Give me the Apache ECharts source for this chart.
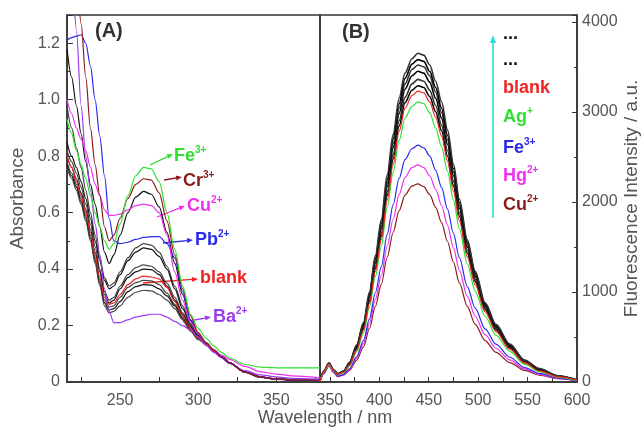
<!DOCTYPE html>
<html>
<head>
<meta charset="utf-8">
<script src="https://cdn.jsdelivr.net/npm/echarts@6/dist/echarts.min.js"></script>
<style>html,body{margin:0;padding:0;background:#fff}#main{width:644px;height:427px}</style>
</head>
<body>
<div id="main"></div>
<script>
// (A) absorption spectra
var wlA = [216, 219, 222, 225, 228, 231, 234, 237, 240, 243, 246, 250, 255, 260, 265, 270, 275, 280, 285, 290, 295, 300, 305, 310, 315, 320, 330, 340, 350, 360, 378];
var absK1 = [1.18, 1.08, 0.98, 0.88, 0.78, 0.7, 0.63, 0.55, 0.46, 0.42, 0.45, 0.52, 0.6, 0.655, 0.675, 0.665, 0.62, 0.53, 0.42, 0.31, 0.22, 0.17, 0.138, 0.112, 0.09, 0.069, 0.036, 0.018, 0.011, 0.008, 0.006];
var absK2 = [0.98, 0.9, 0.83, 0.76, 0.68, 0.6, 0.52, 0.44, 0.37, 0.34, 0.35, 0.39, 0.44, 0.475, 0.49, 0.485, 0.46, 0.41, 0.34, 0.27, 0.21, 0.165, 0.135, 0.11, 0.088, 0.068, 0.035, 0.017, 0.01, 0.008, 0.006];
var absK3 = [0.85, 0.8, 0.76, 0.71, 0.65, 0.58, 0.5, 0.43, 0.36, 0.33, 0.34, 0.38, 0.43, 0.46, 0.475, 0.47, 0.445, 0.4, 0.33, 0.26, 0.205, 0.165, 0.135, 0.11, 0.088, 0.068, 0.035, 0.017, 0.01, 0.008, 0.006];
var absK4 = [0.82, 0.78, 0.74, 0.69, 0.63, 0.56, 0.48, 0.4, 0.32, 0.29, 0.3, 0.34, 0.38, 0.405, 0.415, 0.41, 0.39, 0.35, 0.3, 0.245, 0.2, 0.16, 0.135, 0.11, 0.088, 0.068, 0.035, 0.017, 0.01, 0.008, 0.006];
var absK5 = [0.8, 0.76, 0.72, 0.67, 0.61, 0.54, 0.46, 0.39, 0.31, 0.28, 0.29, 0.33, 0.37, 0.39, 0.4, 0.398, 0.38, 0.34, 0.29, 0.24, 0.195, 0.16, 0.135, 0.11, 0.088, 0.068, 0.035, 0.017, 0.01, 0.008, 0.006];
var absK6 = [0.78, 0.74, 0.7, 0.65, 0.59, 0.52, 0.44, 0.36, 0.29, 0.265, 0.27, 0.3, 0.335, 0.352, 0.36, 0.358, 0.345, 0.315, 0.275, 0.23, 0.19, 0.155, 0.135, 0.11, 0.088, 0.068, 0.035, 0.017, 0.01, 0.008, 0.006];
var absK7 = [0.77, 0.73, 0.69, 0.64, 0.58, 0.51, 0.43, 0.35, 0.28, 0.255, 0.26, 0.285, 0.32, 0.338, 0.345, 0.343, 0.33, 0.305, 0.27, 0.225, 0.185, 0.155, 0.135, 0.11, 0.088, 0.068, 0.035, 0.017, 0.01, 0.008, 0.006];
var absK8 = [0.76, 0.72, 0.68, 0.63, 0.57, 0.5, 0.42, 0.34, 0.27, 0.245, 0.25, 0.27, 0.3, 0.318, 0.325, 0.323, 0.31, 0.29, 0.26, 0.22, 0.18, 0.15, 0.133, 0.108, 0.087, 0.067, 0.034, 0.016, 0.01, 0.008, 0.006];
var absBlank = [0.8, 0.76, 0.71, 0.66, 0.6, 0.53, 0.45, 0.37, 0.3, 0.275, 0.28, 0.31, 0.345, 0.365, 0.375, 0.372, 0.365, 0.335, 0.285, 0.235, 0.19, 0.155, 0.133, 0.11, 0.088, 0.068, 0.035, 0.017, 0.01, 0.008, 0.006];
var absBa = [1.6, 1.45, 1.25, 0.98, 0.8, 0.68, 0.56, 0.45, 0.33, 0.25, 0.21, 0.21, 0.22, 0.23, 0.235, 0.24, 0.24, 0.23, 0.215, 0.2, 0.185, 0.16, 0.13, 0.105, 0.085, 0.065, 0.04, 0.025, 0.018, 0.013, 0.01];
var absPb = [1.21, 1.22, 1.225, 1.23, 1.2, 1.12, 1.0, 0.87, 0.73, 0.58, 0.5, 0.49, 0.495, 0.505, 0.512, 0.515, 0.515, 0.49, 0.44, 0.32, 0.22, 0.17, 0.14, 0.115, 0.09, 0.068, 0.035, 0.017, 0.01, 0.007, 0.005];
var absCu = [1.0, 0.95, 0.9, 0.86, 0.82, 0.76, 0.7, 0.66, 0.61, 0.59, 0.59, 0.595, 0.61, 0.625, 0.63, 0.625, 0.6, 0.52, 0.39, 0.29, 0.21, 0.17, 0.14, 0.115, 0.095, 0.08, 0.055, 0.036, 0.028, 0.022, 0.015];
var absCr = [1.7, 1.6, 1.45, 1.27, 1.08, 0.9, 0.77, 0.66, 0.55, 0.5, 0.52, 0.58, 0.65, 0.7, 0.72, 0.715, 0.67, 0.57, 0.45, 0.33, 0.235, 0.175, 0.14, 0.113, 0.09, 0.068, 0.035, 0.017, 0.01, 0.007, 0.005];
var absFe = [0.93, 0.88, 0.82, 0.77, 0.72, 0.66, 0.6, 0.55, 0.5, 0.47, 0.49, 0.56, 0.66, 0.73, 0.76, 0.755, 0.71, 0.6, 0.47, 0.34, 0.24, 0.19, 0.155, 0.128, 0.105, 0.085, 0.062, 0.053, 0.05, 0.05, 0.05];

// (B) fluorescence spectra
var wlB = [340, 344, 349, 354, 358, 364, 370, 377, 384, 390, 396, 402, 408, 414, 420, 426, 433, 439, 445, 451, 457, 463, 469, 475, 481, 489, 497, 507, 518, 532, 547, 562, 581, 600];
var flK1 = [10, 120, 210, 130, 90, 120, 220, 410, 660, 1000, 1400, 1800, 2300, 2750, 3150, 3430, 3590, 3650, 3630, 3520, 3340, 3110, 2800, 2420, 2030, 1580, 1230, 880, 640, 420, 240, 150, 70, 22];
var flK2 = [10, 120, 210, 130, 90, 120, 215, 400, 645, 975, 1370, 1760, 2250, 2700, 3090, 3370, 3530, 3580, 3560, 3450, 3270, 3040, 2740, 2370, 1990, 1550, 1210, 870, 630, 410, 240, 140, 65, 22];
var flK3 = [10, 120, 205, 130, 88, 118, 210, 395, 635, 960, 1345, 1730, 2210, 2650, 3040, 3310, 3470, 3520, 3500, 3400, 3220, 2990, 2690, 2330, 1960, 1530, 1190, 860, 620, 405, 235, 138, 64, 22];
var flK4 = [10, 118, 205, 128, 88, 116, 205, 385, 620, 940, 1320, 1700, 2170, 2600, 2980, 3250, 3400, 3450, 3430, 3330, 3150, 2930, 2640, 2290, 1930, 1500, 1170, 845, 610, 400, 232, 136, 62, 21];
var flK5 = [10, 118, 200, 128, 86, 114, 200, 375, 605, 915, 1285, 1650, 2110, 2530, 2900, 3160, 3310, 3360, 3340, 3240, 3070, 2850, 2570, 2230, 1880, 1460, 1140, 825, 595, 390, 226, 132, 60, 20];
var flK6 = [10, 116, 200, 126, 86, 112, 196, 368, 590, 895, 1260, 1620, 2070, 2480, 2840, 3100, 3240, 3290, 3270, 3170, 3000, 2790, 2510, 2180, 1840, 1430, 1115, 805, 580, 380, 220, 128, 58, 20];
var flBlank = [10, 115, 200, 125, 85, 110, 190, 355, 575, 870, 1225, 1580, 2020, 2420, 2780, 3040, 3180, 3230, 3210, 3110, 2940, 2730, 2450, 2120, 1790, 1390, 1080, 780, 560, 365, 212, 124, 56, 19];
var flAg = [10, 110, 190, 120, 80, 104, 180, 335, 545, 830, 1170, 1510, 1940, 2330, 2680, 2930, 3060, 3110, 3090, 2990, 2820, 2610, 2340, 2020, 1700, 1310, 1010, 730, 520, 340, 198, 115, 52, 18];
var flFe = [10, 100, 185, 110, 65, 85, 150, 280, 460, 700, 990, 1280, 1640, 1970, 2260, 2470, 2590, 2630, 2600, 2510, 2350, 2160, 1920, 1650, 1380, 1060, 820, 590, 420, 275, 160, 95, 43, 15];
var flHg = [10, 95, 180, 105, 60, 80, 140, 260, 425, 650, 915, 1185, 1510, 1810, 2080, 2270, 2380, 2410, 2380, 2290, 2140, 1960, 1740, 1490, 1240, 950, 730, 525, 375, 245, 145, 85, 40, 14];
var flCu = [10, 95, 180, 105, 60, 78, 130, 240, 390, 595, 840, 1085, 1385, 1660, 1900, 2075, 2175, 2200, 2170, 2080, 1940, 1770, 1560, 1330, 1100, 840, 640, 460, 330, 215, 128, 76, 36, 13];

var ticksA = [225, 250, 275, 300, 325, 350, 375];
var labelsA = [250, 300, 350];
var ticksB = [350, 375, 400, 425, 450, 475, 500, 525, 550, 575, 600];
var labelsB = [350, 400, 450, 500, 550, 600];

var FONT = '"Liberation Sans", Arial, sans-serif';
var GREEN = '#2ee02e', BROWN = '#8b1c1c', MAGENTA = '#f030f0', BLUE = '#2a2ae8', RED = '#f02424', VIOLET = '#9a3cf0', CYAN = '#2adcdc';

function pts(xs, ys) {
    return xs.map(function (x, i) { return [x, ys[i]]; });
}
function curve(xs, ys, color, idx, w) {
    return {
        type: 'line', xAxisIndex: idx, yAxisIndex: idx,
        data: pts(xs, ys), symbol: 'none', smooth: 0.3, smoothMonotone: 'x',
        lineStyle: { color: color, width: w || 1.2 }, silent: true
    };
}
function arrow(x1, y1, x2, y2, color) {
    var a = Math.atan2(y2 - y1, x2 - x1);
    var bx = x2 - 6 * Math.cos(a), by = y2 - 6 * Math.sin(a);
    var px = -Math.sin(a) * 2.5, py = Math.cos(a) * 2.5;
    return [
        { type: 'line', shape: { x1: x1, y1: y1, x2: bx, y2: by }, style: { stroke: color, lineWidth: 1.3 } },
        { type: 'polygon', shape: { points: [[x2, y2], [bx + px, by + py], [bx - px, by - py]] }, style: { fill: color } }
    ];
}
function ion(x, y, base, sup, color) {
    return {
        type: 'text', x: x, y: y,
        style: {
            text: '{b|' + base + '}' + (sup ? '{s|' + sup + '}' : ''),
            textAlign: 'left', textVerticalAlign: 'middle', align: 'left', verticalAlign: 'middle',
            rich: {
                b: { fontSize: 18, fontWeight: 'bold', fontFamily: FONT, fill: color, lineHeight: 22 },
                s: { fontSize: 10, fontWeight: 'bold', fontFamily: FONT, fill: color, lineHeight: 12, verticalAlign: 'top' }
            }
        }
    };
}

var series = [];
[absK1, absK2, absK3, absK4, absK5, absK6, absK7, absK8].forEach(function (v, i) {
    series.push(curve(wlA, v, i % 2 ? '#444' : '#111', 0));
});
series.push(curve(wlA, absBlank, RED, 0));
series.push(curve(wlA, absBa, VIOLET, 0));
series.push(curve(wlA, absPb, BLUE, 0));
series.push(curve(wlA, absCu, MAGENTA, 0));
series.push(curve(wlA, absCr, BROWN, 0));
series.push(curve(wlA, absFe, GREEN, 0));
[flK6, flK5, flK4, flK3, flK2, flK1].forEach(function (v, i) {
    series.push(curve(wlB, v, i % 2 ? '#333' : '#000', 1, 1.6));
});
series.push(curve(wlB, flCu, BROWN, 1));
series.push(curve(wlB, flHg, MAGENTA, 1));
series.push(curve(wlB, flFe, BLUE, 1));
series.push(curve(wlB, flAg, GREEN, 1));
series.push(curve(wlB, flBlank, RED, 1));

var axisCol = '#333', labCol = '#555';
var graphics = [];
graphics = graphics.concat(
    arrow(150, 165, 173, 154, GREEN), arrow(164, 180, 182, 177, BROWN),
    arrow(157, 217, 185, 206, MAGENTA), arrow(163, 243, 193, 240, BLUE),
    arrow(143, 283, 198, 279, RED), arrow(183, 322, 211, 317, VIOLET)
);
graphics.push(
    ion(174, 156, 'Fe', '3+', GREEN), ion(183, 181, 'Cr', '3+', BROWN),
    ion(187, 206, 'Cu', '2+', MAGENTA), ion(195, 240, 'Pb', '2+', BLUE),
    ion(200, 278, 'blank', '', RED), ion(213, 317, 'Ba', '2+', VIOLET),
    ion(503, 34, '...', '', '#111'), ion(503, 60, '...', '', '#111'),
    ion(503, 88, 'blank', '', RED), ion(503, 117, 'Ag', '+', GREEN),
    ion(503, 148, 'Fe', '3+', BLUE), ion(503, 176, 'Hg', '2+', MAGENTA),
    ion(503, 205, 'Cu', '2+', BROWN)
);
graphics.push({ type: 'line', shape: { x1: 493, y1: 218, x2: 493, y2: 42 }, style: { stroke: CYAN, lineWidth: 1.6 } });
graphics.push({ type: 'polygon', shape: { points: [[493, 35], [490, 43], [496, 43]] }, style: { fill: CYAN } });
graphics.push({ type: 'text', x: 95, y: 31, style: { text: '(A)', font: 'bold 20px ' + FONT, fill: '#333', textVerticalAlign: 'middle', verticalAlign: 'middle' } });
graphics.push({ type: 'text', x: 342, y: 32, style: { text: '(B)', font: 'bold 20px ' + FONT, fill: '#333', textVerticalAlign: 'middle', verticalAlign: 'middle' } });
graphics.push({ type: 'text', x: 325, y: 418, style: { text: 'Wavelength / nm', font: '18px ' + FONT, fill: labCol, textAlign: 'center', align: 'center', textVerticalAlign: 'middle', verticalAlign: 'middle' } });

var myChart = echarts.init(document.getElementById('main'));
var option = {
    animation: false,
    grid: [
        { left: 67, top: 15, width: 253, height: 367, show: true, borderColor: axisCol, borderWidth: 1.5 },
        { left: 320, top: 15, width: 257, height: 367, show: true, borderColor: axisCol, borderWidth: 1.5 }
    ],
    xAxis: [
        {
            gridIndex: 0, type: 'value', min: 216, max: 378,
            axisLine: { lineStyle: { color: axisCol, width: 1.5 } },
            axisTick: { inside: true, length: 5, customValues: ticksA, lineStyle: { color: axisCol } },
            axisLabel: { customValues: labelsA, fontSize: 16, color: labCol, fontFamily: FONT, margin: 11 },
            splitLine: { show: false }
        },
        {
            gridIndex: 1, type: 'value', min: 340, max: 600,
            axisLine: { lineStyle: { color: axisCol, width: 1.5 } },
            axisTick: { inside: true, length: 5, customValues: ticksB, lineStyle: { color: axisCol } },
            axisLabel: { customValues: labelsB, fontSize: 16, color: labCol, fontFamily: FONT, margin: 11 },
            splitLine: { show: false }
        }
    ],
    yAxis: [
        {
            gridIndex: 0, type: 'value', min: 0, max: 1.3, interval: 0.2,
            name: 'Absorbance', nameLocation: 'middle', nameGap: 40,
            nameTextStyle: { fontSize: 19, color: labCol, fontFamily: FONT },
            axisLine: { lineStyle: { color: axisCol, width: 1.5 } },
            axisTick: { inside: true, length: 6, lineStyle: { color: axisCol } },
            minorTick: { show: true, splitNumber: 2, length: 3, lineStyle: { color: axisCol } },
            axisLabel: {
                fontSize: 16, color: labCol, fontFamily: FONT, margin: 7, showMaxLabel: false,
                formatter: function (v) { return v === 0 ? '0' : v.toFixed(1); }
            },
            splitLine: { show: false }
        },
        {
            gridIndex: 1, type: 'value', position: 'right', min: 0, max: 4075, interval: 1000,
            name: 'Fluorescence Intensity / a.u.', nameLocation: 'middle', nameGap: 45, nameRotate: 90,
            nameTextStyle: { fontSize: 19, color: labCol, fontFamily: FONT },
            axisLine: { lineStyle: { color: axisCol, width: 1.5 } },
            axisTick: { inside: true, length: 5, lineStyle: { color: axisCol } },
            minorTick: { show: true, splitNumber: 2, length: 3, lineStyle: { color: axisCol } },
            axisLabel: {
                fontSize: 16, color: labCol, fontFamily: FONT, margin: 5, showMaxLabel: false,
                formatter: function (v) { return String(v); }
            },
            splitLine: { show: false }
        }
    ],
    graphic: graphics,
    series: series
};
myChart.setOption(option);
</script>
</body>
</html>
